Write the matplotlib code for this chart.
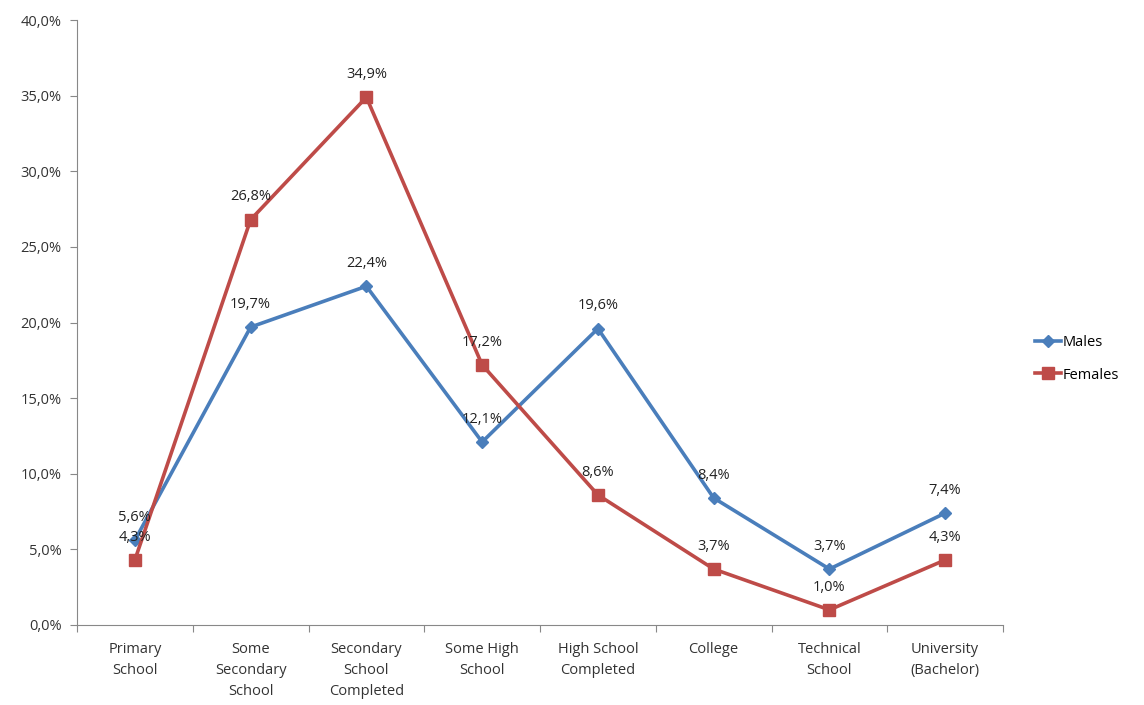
import matplotlib.pyplot as plt
from matplotlib.ticker import FuncFormatter

categories = ['Primary\nSchool', 'Some\nSecondary\nSchool', 'Secondary\nSchool\nCompleted',
              'Some High\nSchool', 'High School\nCompleted', 'College',
              'Technical\nSchool', 'University\n(Bachelor)']
males = [5.6, 19.7, 22.4, 12.1, 19.6, 8.4, 3.7, 7.4]
females = [4.3, 26.8, 34.9, 17.2, 8.6, 3.7, 1.0, 4.3]

plt.rcParams['font.family'] = ['Open Sans', 'DejaVu Sans']

fig = plt.figure(figsize=(11.44, 7.05), dpi=100)
ax = fig.add_axes([0.0673, 0.1135, 0.8095, 0.858])

x = list(range(len(categories)))
ax.plot(x, males, color='#4a7ebb', lw=2.6, marker='D', ms=6, label='Males')
ax.plot(x, females, color='#be4b48', lw=2.6, marker='s', ms=8, label='Females')

for xi, v in zip(x, males):
    ax.annotate(f'{v:.1f}%'.replace('.', ','), (xi, v), xytext=(0, 11),
                textcoords='offset points', ha='center', va='bottom', fontsize=10.5, color='#222222')
for xi, v in zip(x, females):
    ax.annotate(f'{v:.1f}%'.replace('.', ','), (xi, v), xytext=(0, 11),
                textcoords='offset points', ha='center', va='bottom', fontsize=10.5, color='#222222')

ax.set_xlim(-0.5, len(categories) - 0.5)
ax.set_ylim(0, 40)
ax.set_yticks(range(0, 41, 5))
ax.yaxis.set_major_formatter(FuncFormatter(lambda v, _: f'{v:.1f}%'.replace('.', ',')))

# category labels between boundary ticks
ax.set_xticks([i - 0.5 for i in range(len(categories) + 1)])
ax.set_xticklabels([])
ax.set_xticks(x, minor=True)
ax.set_xticklabels(categories, minor=True, fontsize=10.5, color='#333333', linespacing=1.55)
ax.tick_params(axis='x', which='minor', length=0, pad=12)
ax.tick_params(axis='x', which='major', length=5, color='#888888')
ax.tick_params(axis='y', length=5, color='#888888', labelsize=10.5, labelcolor='#333333', pad=6)

for s in ['top', 'right']:
    ax.spines[s].set_visible(False)
for s in ['left', 'bottom']:
    ax.spines[s].set_color('#888888')

ax.legend(loc='center left', bbox_to_anchor=(1.02, 0.44), frameon=False,
          fontsize=10.5, handlelength=1.8, handletextpad=0.1, labelspacing=1.2)

fig.savefig('out.png', dpi=100)
